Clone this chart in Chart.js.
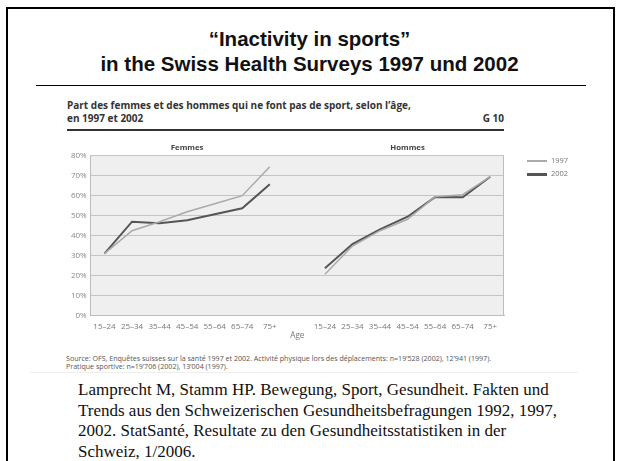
<!DOCTYPE html>
<html>
<head>
<meta charset="utf-8">
<script src="https://cdn.jsdelivr.net/npm/chart.js@4"></script>
<style>
  html, body { margin: 0; padding: 0; background: #fff; }
  #page { position: relative; width: 619px; height: 461px; overflow: hidden; }
  .abs { position: absolute; white-space: nowrap; }
  #frame { left: 6px; top: 7px; width: 605px; height: 470px; border: 2.5px solid #000; }
  .title { left: 0; width: 619px; text-align: center; font: bold 20.5px "Liberation Sans", Arial, sans-serif; color: #111; }
  .sub { left: 67px; font: bold 10px "Open Sans", "Noto Sans", sans-serif; color: #333; }
  .src { left: 66px; font: 7.1px "Open Sans", "Noto Sans", sans-serif; color: #555; }
  .cite { left: 78px; font: 17px "Liberation Serif", "Times New Roman", serif; color: #111; }
  .leg { font: 7.5px "Open Sans", "Noto Sans", sans-serif; color: #777; }
  #chartBox { position: absolute; left: 40px; top: 140px; width: 560px; height: 200px; }
</style>
</head>
<body>
<div id="page">
  <div id="frame" class="abs"></div>

  <div class="abs title" style="top:27px">“Inactivity in sports”</div>
  <div class="abs title" style="top:52px">in the Swiss Health Surveys 1997 und 2002</div>
  <div class="abs" style="left:36px; top:85px; width:550px; height:1.2px; background:#000"></div>

  <div class="abs sub" style="top:98px">Part des femmes et des hommes qui ne font pas de sport, selon l’âge,</div>
  <div class="abs sub" style="top:111px">en 1997 et 2002</div>
  <div class="abs sub" style="top:111px; left:auto; right:115px">G 10</div>
  <div class="abs" style="left:67px; top:129px; width:437px; height:1.6px; background:#333"></div>

  <div id="chartBox"><canvas id="chart"></canvas></div>

  <div class="abs" style="left:527px; top:160px; width:20px; height:1.5px; background:#aaa"></div>
  <div class="abs leg" style="left:551px; top:155px">1997</div>
  <div class="abs" style="left:527px; top:173px; width:20px; height:2.5px; background:#555"></div>
  <div class="abs leg" style="left:551px; top:168px">2002</div>

  <div class="abs src" style="top:352.5px">Source: OFS, Enquêtes suisses sur la santé 1997 et 2002. Activité physique lors des déplacements: n=19’528 (2002), 12’941 (1997).</div>
  <div class="abs src" style="top:361px">Pratique sportive: n=19’706 (2002), 13’004 (1997).</div>
  <div class="abs" style="left:30px; top:372px; width:548px; height:1px; background:#eee"></div>

  <div class="abs cite" style="top:380px">Lamprecht M, Stamm HP. Bewegung, Sport, Gesundheit. Fakten und</div>
  <div class="abs cite" style="top:400.5px">Trends aus den Schweizerischen Gesundheitsbefragungen 1992, 1997,</div>
  <div class="abs cite" style="top:421px">2002. StatSanté, Resultate zu den Gesundheitsstatistiken in der</div>
  <div class="abs cite" style="top:441.5px">Schweiz, 1/2006.</div>
</div>

<script>
// age groups shown for each panel
const ageGroups = ['15–24', '25–34', '35–44', '45–54', '55–64', '65–74', '75+'];

// share of people doing no sport (%)
const femmes1997 = [31, 42.5, 47, 52, 56, 60, 74.5];
const femmes2002 = [31, 47, 46.2, 47.7, 50.7, 53.7, 65.7];
const hommes1997 = [20.7, 34.8, 42.5, 48.2, 59.5, 60.5, 69.5];
const hommes2002 = [23.7, 35.8, 43.2, 49.5, 59.3, 59.2, 69.5];

const yTicks = [0, 10, 20, 30, 40, 50, 60, 70, 80];

// one category axis: Femmes | gap | Hommes
const labels = [...ageGroups, '', ...ageGroups];
const join = (f, h) => [...f, null, ...h];

const FONT = '"Open Sans", "Noto Sans", sans-serif';

// grey plot background, right border, panel titles
const plotDecor = {
  id: 'plotDecor',
  beforeDraw(chart) {
    const { ctx, chartArea: a } = chart;
    ctx.save();
    ctx.fillStyle = '#efefef';
    ctx.fillRect(a.left, a.top, a.right - a.left, a.bottom - a.top);
    ctx.restore();
  },
  afterDraw(chart) {
    const { ctx, chartArea: a, scales: { x } } = chart;
    ctx.save();
    ctx.strokeStyle = '#bdbdbd';
    ctx.lineWidth = 1;
    ctx.beginPath();
    ctx.moveTo(a.right - 0.5, a.top);
    ctx.lineTo(a.right - 0.5, a.bottom);
    ctx.stroke();
    ctx.fillStyle = '#444';
    ctx.textAlign = 'center';
    ctx.textBaseline = 'middle';
    ctx.font = 'bold 7.8px ' + FONT;
    ctx.fillText('Femmes', x.getPixelForValue(3), a.top - 7.5);
    ctx.fillText('Hommes', x.getPixelForValue(11), a.top - 7.5);
    ctx.font = '8.2px ' + FONT;
    ctx.fillStyle = '#777';
    ctx.fillText('Age', x.getPixelForValue(7), a.bottom + 19.5);
    ctx.restore();
  }
};

new Chart(document.getElementById('chart'), {
  type: 'line',
  data: {
    labels,
    datasets: [
      {
        label: '1997',
        data: join(femmes1997, hommes1997),
        borderColor: '#aaaaaa',
        borderWidth: 1.5,
        pointRadius: 0,
        spanGaps: false,
        tension: 0,
      },
      {
        label: '2002',
        data: join(femmes2002, hommes2002),
        borderColor: '#555555',
        borderWidth: 2,
        pointRadius: 0,
        spanGaps: false,
        tension: 0,
      }
    ]
  },
  options: {
    responsive: true,
    maintainAspectRatio: false,
    animation: false,
    layout: { padding: { left: 0, top: 15.7, right: 96, bottom: 0 } },
    scales: {
      x: {
        offset: true,
        grid: { display: false, drawTicks: false },
        border: { color: '#bdbdbd' },
        ticks: {
          autoSkip: false,
          maxRotation: 0,
          padding: 6,
          color: '#777',
          font: { family: FONT, size: 8 },
        },
        afterFit: s => { s.height = 24.3; }
      },
      y: {
        min: 0,
        max: 80,
        afterBuildTicks: s => { s.ticks = yTicks.map(v => ({ value: v })); },
        grid: { color: '#c4c4c4', lineWidth: 1, drawTicks: false },
        border: { color: '#bdbdbd' },
        ticks: {
          padding: 4,
          color: '#888',
          font: { family: FONT, size: 8 },
          callback: v => v + '%',
        },
        afterFit: s => { s.width = 50.7; }
      }
    },
    plugins: {
      legend: { display: false },
      tooltip: { enabled: false }
    }
  },
  plugins: [plotDecor]
});
</script>
</body>
</html>
